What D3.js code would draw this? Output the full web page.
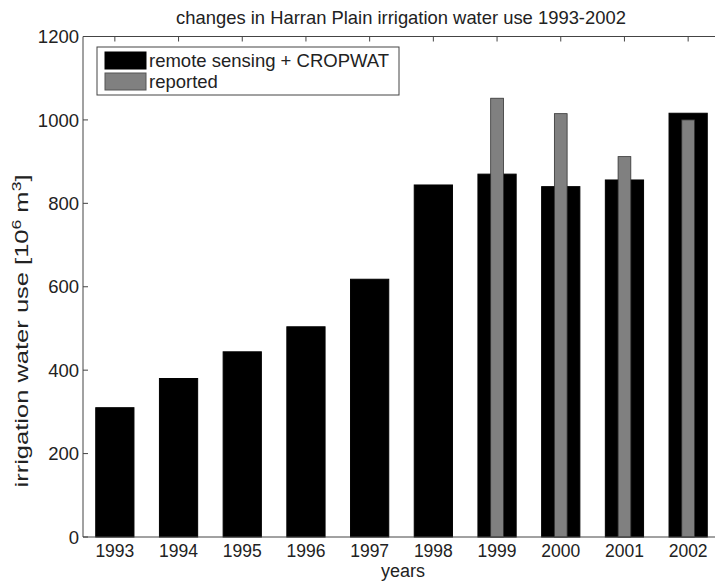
<!DOCTYPE html>
<html>
<head>
<meta charset="utf-8">
<script src="https://cdn.jsdelivr.net/npm/d3@7"></script>
<style>
  body { margin: 0; background: #fff; }
  text { font-family: "Liberation Sans", Arial, Helvetica, sans-serif; fill: #222; }
</style>
</head>
<body>
<div id="chart"></div>
<script>
var years = [1993, 1994, 1995, 1996, 1997, 1998, 1999, 2000, 2001, 2002];
var remoteSensing = [310, 380, 444, 504, 618, 844, 870, 840, 856, 1016];
var reported = [null, null, null, null, null, null, 1052, 1015, 912, 1000];
var yTicks = [0, 200, 400, 600, 800, 1000, 1200];
var legendLabels = ["remote sensing + CROPWAT", "reported"];

var width = 715, height = 586;
// note: "top" is taken by window.top, so use plot* names
var plotLeft = 83, plotRight = 720, plotTop = 36.5, plotBottom = 537;

var svg = d3.select("#chart").append("svg")
  .attr("width", width)
  .attr("height", height);

svg.append("rect").attr("width", width).attr("height", height).attr("fill", "#fff");

var x = d3.scaleBand().domain(years).range([plotLeft, plotRight]).padding(0);
var y = d3.scaleLinear().domain([0, 1200]).range([plotBottom, plotTop]);
var step = x.step();

// ticks under the bars (matlab layer = bottom)
var axisColor = "#444";
svg.append("g").selectAll("line")
  .data(years).enter().append("line")
  .attr("x1", function (d) { return x(d) + step / 2; })
  .attr("x2", function (d) { return x(d) + step / 2; })
  .attr("y1", plotBottom).attr("y2", plotBottom - 5)
  .attr("stroke", axisColor);
svg.append("g").selectAll("line")
  .data(years).enter().append("line")
  .attr("x1", function (d) { return x(d) + step / 2; })
  .attr("x2", function (d) { return x(d) + step / 2; })
  .attr("y1", plotTop).attr("y2", plotTop + 5)
  .attr("stroke", axisColor);
svg.append("g").selectAll("line")
  .data(yTicks).enter().append("line")
  .attr("x1", plotLeft).attr("x2", plotLeft + 5)
  .attr("y1", function (d) { return y(d); })
  .attr("y2", function (d) { return y(d); })
  .attr("stroke", axisColor);

// black bars
svg.append("g").selectAll("rect")
  .data(years).enter().append("rect")
  .attr("x", function (d) { return x(d) + step * 0.2; })
  .attr("width", step * 0.6)
  .attr("y", function (d, i) { return y(remoteSensing[i]); })
  .attr("height", function (d, i) { return y(0) - y(remoteSensing[i]); })
  .attr("fill", "#000")
  .attr("stroke", "#000");

// reported bars on top
var rep = years.map(function (d, i) { return { year: d, v: reported[i] }; })
  .filter(function (d) { return d.v != null; });
svg.append("g").selectAll("rect")
  .data(rep).enter().append("rect")
  .attr("x", function (d) { return x(d.year) + step * 0.4; })
  .attr("width", step * 0.2)
  .attr("y", function (d) { return y(d.v); })
  .attr("height", function (d) { return y(0) - y(d.v); })
  .attr("fill", "#808080")
  .attr("stroke", "#333")
  .attr("stroke-width", 0.8);

// axis box
svg.append("path")
  .attr("d", "M" + plotRight + "," + plotTop + "H" + plotLeft + "V" + plotBottom + "H" + plotRight)
  .attr("fill", "none")
  .attr("stroke", axisColor);

// tick labels
svg.append("g").selectAll("text")
  .data(yTicks).enter().append("text")
  .attr("x", 79)
  .attr("y", function (d) { return y(d); })
  .attr("dy", "0.36em")
  .attr("text-anchor", "end")
  .style("font-size", "18.5px")
  .text(function (d) { return d; });

svg.append("g").selectAll("text")
  .data(years).enter().append("text")
  .attr("x", function (d) { return x(d) + step / 2; })
  .attr("y", 557)
  .attr("text-anchor", "middle")
  .style("font-size", "17.5px")
  .text(function (d) { return d; });

// title + axis labels
svg.append("text")
  .attr("x", 401).attr("y", 24)
  .attr("text-anchor", "middle")
  .style("font-size", "18.4px")
  .text("changes in Harran Plain irrigation water use 1993-2002");

svg.append("text")
  .attr("x", 403).attr("y", 577)
  .attr("text-anchor", "middle")
  .style("font-size", "18px")
  .text("years");

// the ylabel in the picture is stretched along its length
var yl = svg.append("text")
  .attr("transform", "translate(28,331) rotate(-90)")
  .attr("text-anchor", "middle")
  .attr("textLength", 313)
  .attr("lengthAdjust", "spacingAndGlyphs")
  .style("font-size", "17.5px");
yl.append("tspan").text("irrigation water use [10");
yl.append("tspan").attr("dy", -7).style("font-size", "12px").text("6");
yl.append("tspan").attr("dy", 7).text(" m");
yl.append("tspan").attr("dy", -7).style("font-size", "12px").text("3");
yl.append("tspan").attr("dy", 7).text("]");

// legend
var lg = svg.append("g");
lg.append("rect")
  .attr("x", 97).attr("y", 47)
  .attr("width", 302).attr("height", 48)
  .attr("fill", "#fff")
  .attr("stroke", axisColor);
var legendColors = ["#000", "#808080"];
legendLabels.forEach(function (l, i) {
  lg.append("rect")
    .attr("x", 105).attr("y", 52 + i * 21)
    .attr("width", 41).attr("height", 17)
    .attr("fill", legendColors[i])
    .attr("stroke", i ? "#555" : "#000");
  lg.append("text")
    .attr("x", 149).attr("y", 67 + i * 21)
    .style("font-size", "18.5px")
    .text(l);
});
</script>
</body>
</html>
